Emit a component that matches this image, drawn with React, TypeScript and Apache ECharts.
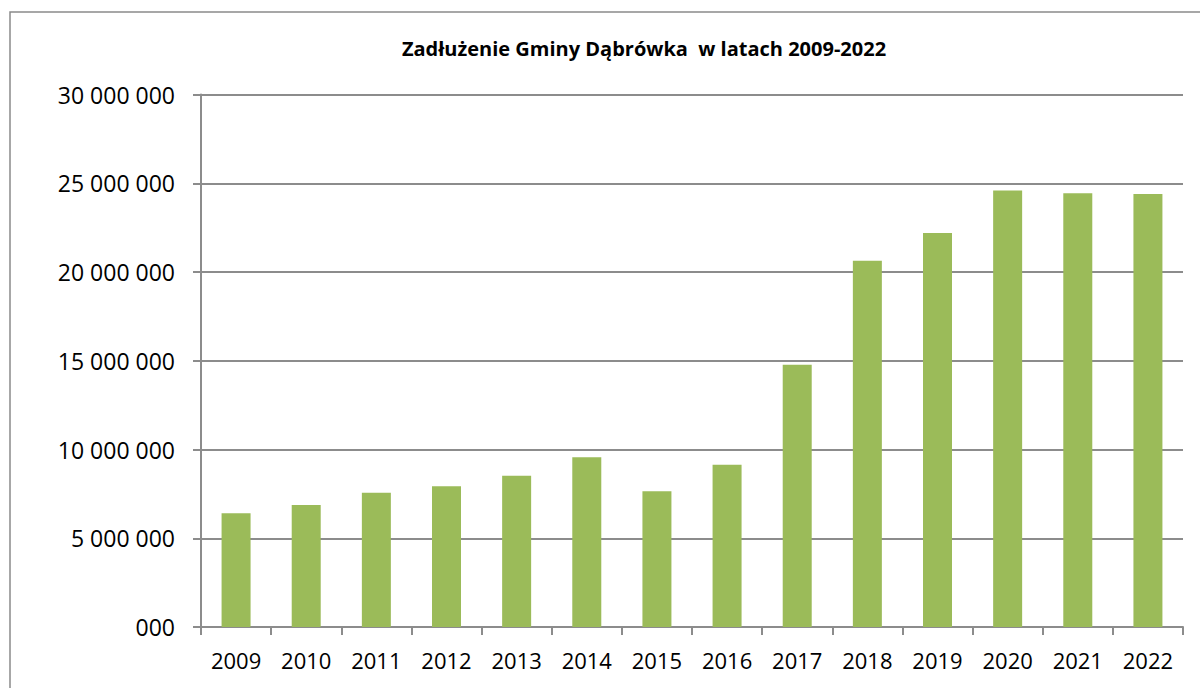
import React, { useEffect, useRef } from "react";
import * as echarts from "echarts";

const years = ["2009", "2010", "2011", "2012", "2013", "2014", "2015", "2016", "2017", "2018", "2019", "2020", "2021", "2022"];
const debt = [6410000, 6880000, 7570000, 7930000, 8520000, 9570000, 7650000, 9140000, 14780000, 20640000, 22200000, 24590000, 24440000, 24400000];
const titleText = "Zadłużenie Gminy Dąbrówka  w latach 2009-2022";

function fmt(v: number): string {
  if (v === 0) return "000";
  return String(Math.round(v)).replace(/\B(?=(\d{3})+(?!\d))/g, " ");
}

export default function App() {
  const ref = useRef<HTMLDivElement>(null);
  useEffect(() => {
    if (!ref.current) return;
    const chart = echarts.init(ref.current, undefined, { renderer: "svg" });
    const font = "'Open Sans', 'Liberation Sans', sans-serif";
    chart.setOption({
      animation: false,
      backgroundColor: "#ffffff",
      title: {
        text: titleText,
        left: 639,
        top: 33,
        textAlign: "center",
        textStyle: { fontFamily: font, fontSize: 20, fontWeight: "bold", color: "#000" },
      },
      graphic: [
        {
          type: "rect",
          shape: { x: 10, y: 12, width: 1200, height: 700 },
          style: { fill: "none", stroke: "#8a8a8a", lineWidth: 1.5 },
          silent: true,
        },
      ],
      grid: { left: 201, right: 17, top: 94.5, bottom: 61 },
      xAxis: {
        type: "category",
        data: years,
        boundaryGap: true,
        axisLine: { show: true, lineStyle: { color: "#8c8c8c", width: 2 } },
        axisTick: { show: true, length: 8, lineStyle: { color: "#8c8c8c", width: 2 } },
        axisLabel: { fontFamily: font, fontSize: 22, color: "#000", margin: 22 },
      },
      yAxis: {
        type: "value",
        min: 0,
        max: 30000000,
        interval: 5000000,
        axisLine: { show: true, lineStyle: { color: "#8c8c8c", width: 2 } },
        axisTick: { show: true, length: 8, lineStyle: { color: "#8c8c8c", width: 2 } },
        splitLine: { show: true, lineStyle: { color: "#8c8c8c", width: 2 } },
        axisLabel: { fontFamily: font, fontSize: 23, color: "#000", margin: 26, formatter: (v: number) => fmt(v) },
      },
      series: [
        {
          type: "bar",
          data: debt,
          barWidth: 29,
          itemStyle: { color: "#9BBB59" },
        },
      ],
    });
    return () => chart.dispose();
  }, []);
  return <div ref={ref} style={{ position: "fixed", left: 0, top: 0, width: 1200, height: 688 }} />;
}
